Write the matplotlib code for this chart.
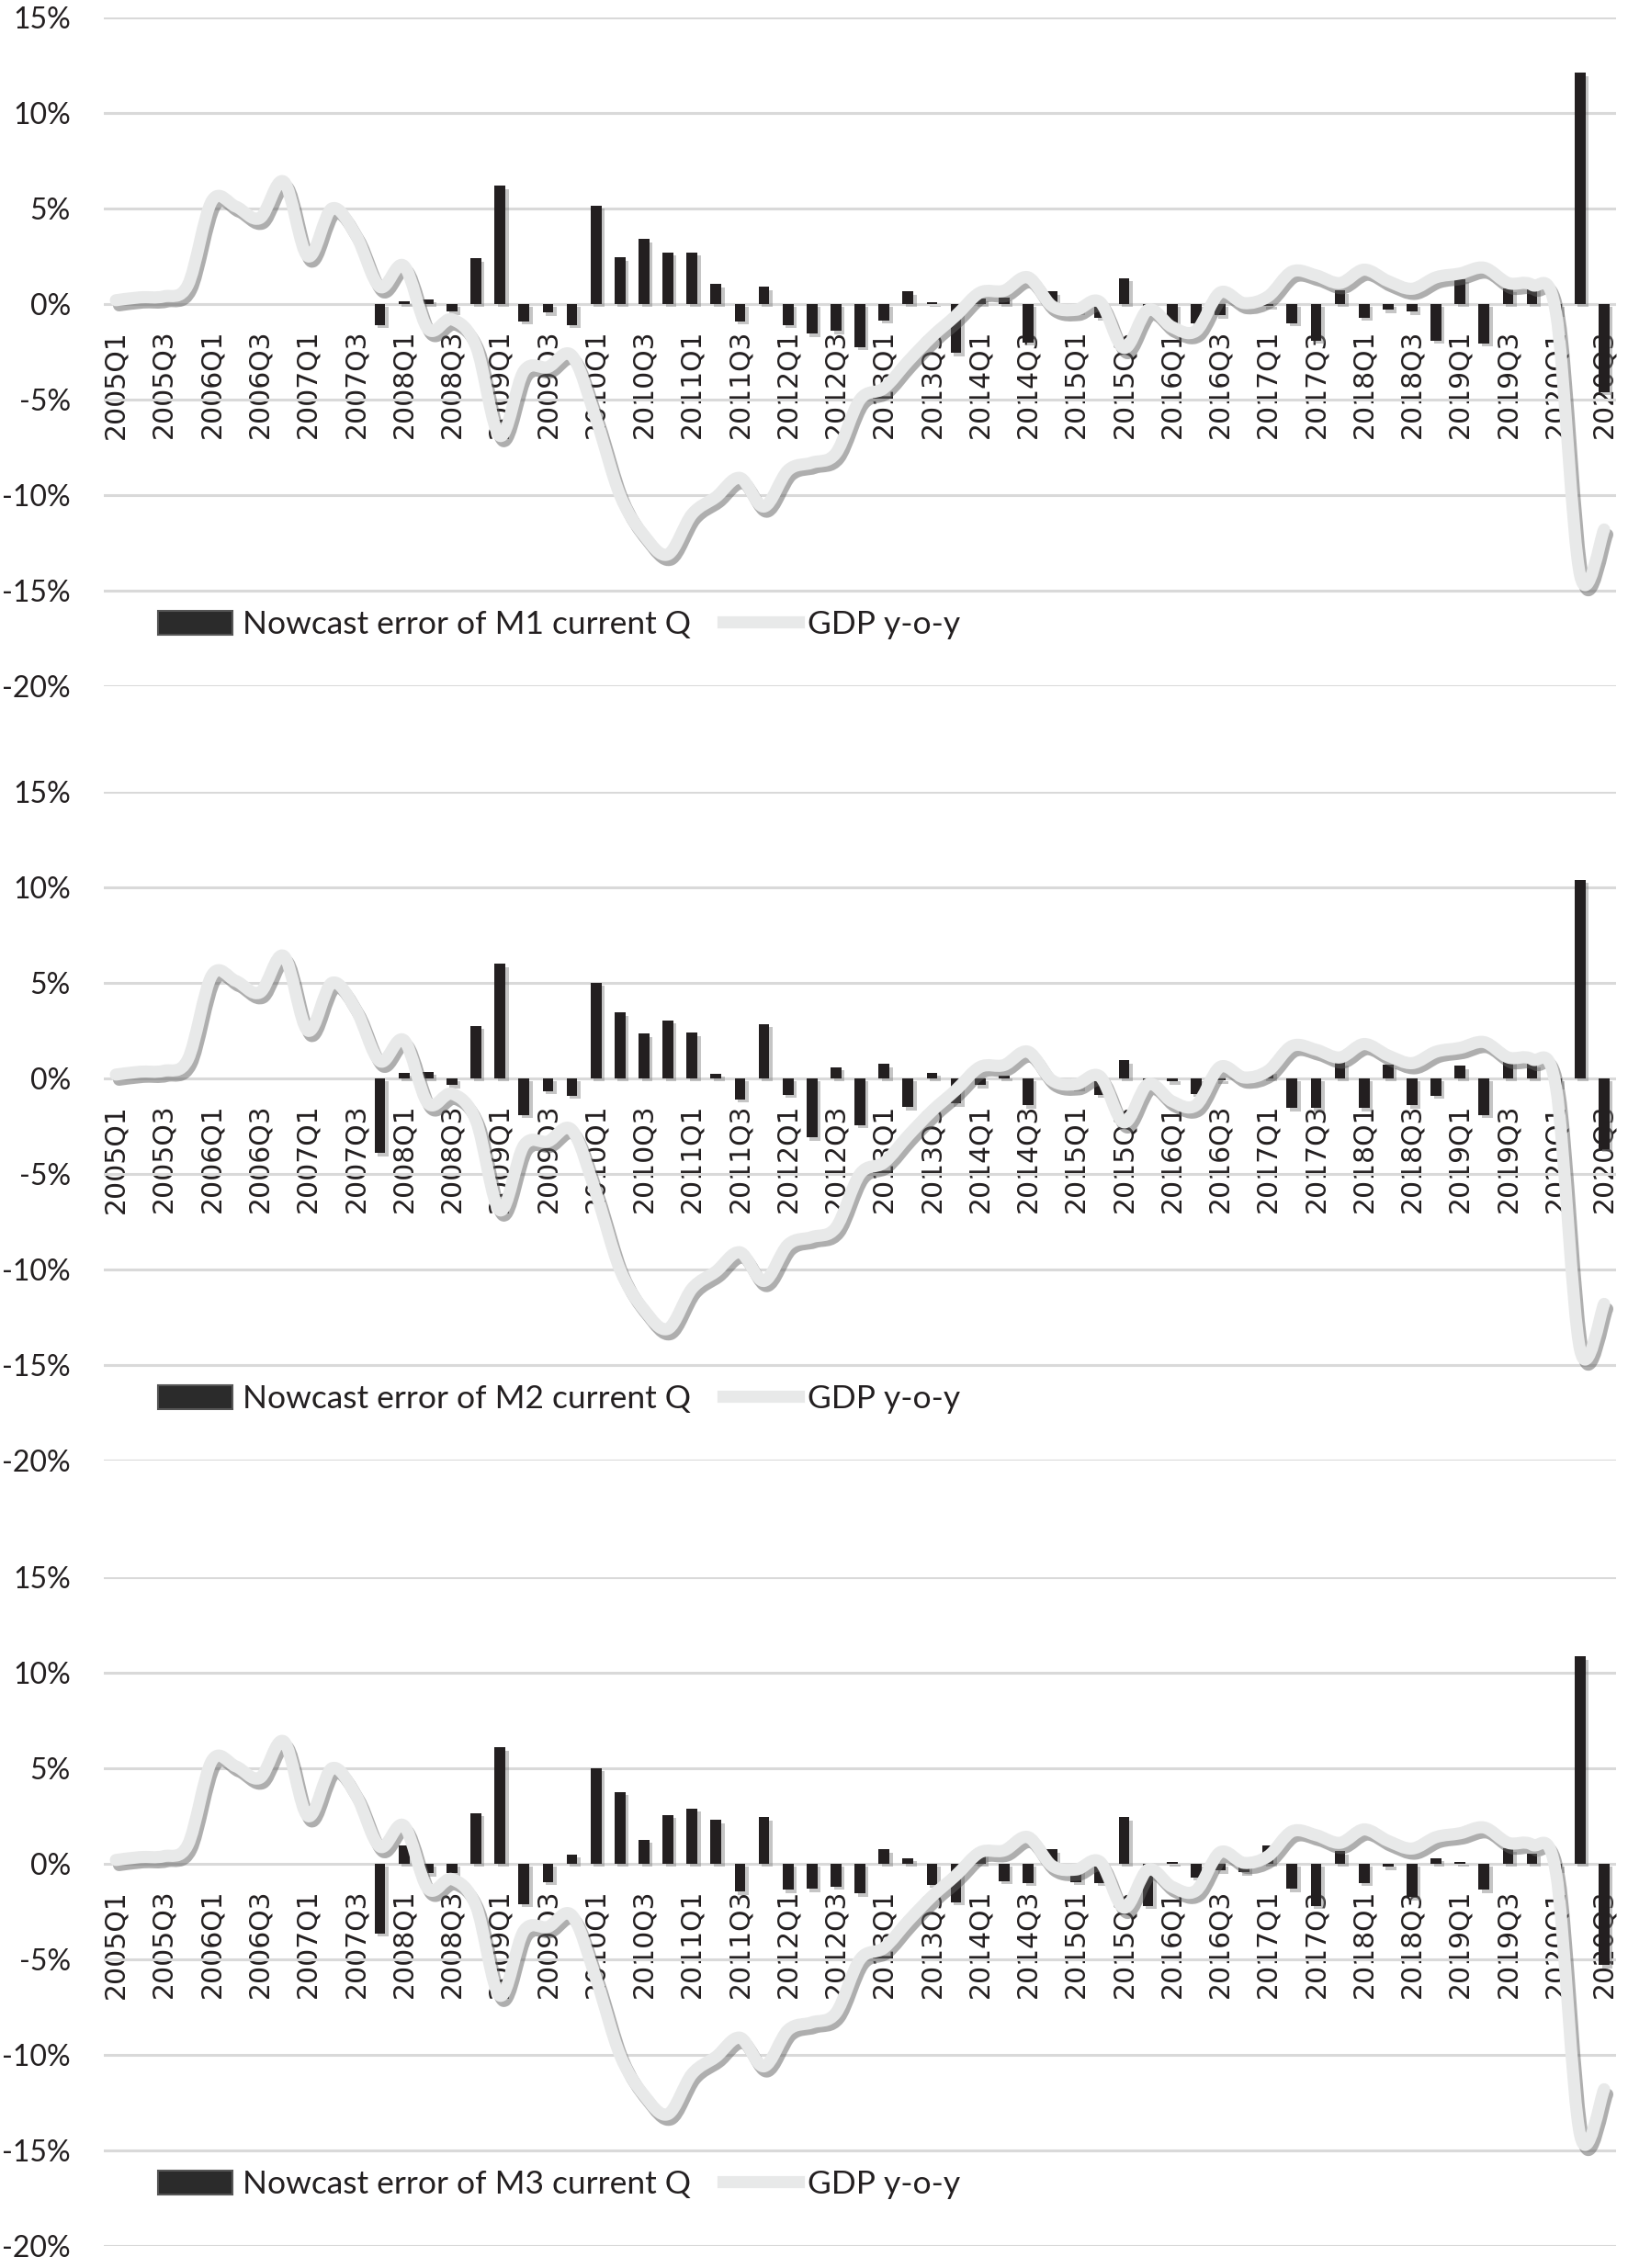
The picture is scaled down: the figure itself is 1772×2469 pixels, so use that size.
import matplotlib
matplotlib.use("Agg")
import matplotlib.pyplot as plt
import matplotlib.patheffects as pe
from matplotlib.lines import Line2D
from matplotlib.patches import Patch, PathPatch
from matplotlib.path import Path
from matplotlib.ticker import FuncFormatter
import numpy as np

# quarters 2005Q1 .. 2020Q3
quarters = [f"{y}Q{q}" for y in range(2005, 2021) for q in range(1, 5)][:63]

# GDP y-o-y (%), same line in the three panels
gdp = [0.2, 0.35, 0.4, 1.0, 5.4, 5.1, 4.5, 6.4, 2.5, 5.0, 3.6, 0.9,
       2.0, -1.3, -0.8, -2.2, -6.9, -3.5, -3.3, -2.7, -6.0, -10.0, -12.1, -13.1,
       -11.0, -10.1, -9.1, -10.6, -8.7, -8.3, -7.8, -5.0, -4.4, -3.0, -1.7, -0.6,
       0.6, 0.7, 1.4, -0.1, -0.3, 0.1, -2.3, -0.3, -1.2, -1.4, 0.6, 0.05,
       0.4, 1.7, 1.5, 1.1, 1.8, 1.2, 0.8, 1.4, 1.6, 1.9, 1.1, 1.0,
       -0.5, -14.2, -11.8]

# nowcast errors (%)
err_m1 = [0, 0, 0, 0, 0, 0, 0, 0, 0, 0, 0, -1.1,
          0.15, 0.25, -0.4, 2.4, 6.2, -0.9, -0.45, -1.1, 5.15, 2.45, 3.4, 2.7,
          2.7, 1.05, -0.9, 0.9, -1.1, -1.55, -1.4, -2.25, -0.85, 0.65, 0.08, -2.55,
          0.3, 0.35, -2.0, 0.65, -0.4, -0.7, 1.35, -0.4, -1.25, -1.0, -0.6, 0.1,
          -0.1, -1.0, -1.9, 0.7, -0.7, -0.3, -0.4, -1.9, 1.3, -2.05, 0.8, 0.95,
          -0.5, 12.1, -4.6]

err_m2 = [0, 0, 0, 0, 0, 0, 0, 0, 0, 0, 0, -3.9,
          0.3, 0.35, -0.35, 2.75, 6.0, -1.9, -0.65, -0.9, 5.0, 3.45, 2.35, 3.05,
          2.4, 0.25, -1.1, 2.85, -0.85, -3.1, 0.6, -2.45, 0.75, -1.5, 0.3, -1.3,
          -0.35, 0.15, -1.4, -0.2, -0.5, -0.85, 0.95, -0.15, -0.15, -0.8, -0.1, 0.05,
          0.4, -1.55, -1.55, 0.85, -1.55, 0.7, -1.4, -0.9, 0.65, -1.9, 1.0, 0.75,
          -0.4, 10.4, -3.7]

err_m3 = [0, 0, 0, 0, 0, 0, 0, 0, 0, 0, 0, -3.65,
          0.95, -0.5, -0.5, 2.65, 6.1, -2.1, -0.95, 0.5, 5.0, 3.75, 1.25, 2.55,
          2.9, 2.3, -1.45, 2.45, -1.35, -1.3, -1.2, -1.55, 0.75, 0.3, -1.1, -2.0,
          0.7, -0.9, -1.0, 0.75, -0.95, -1.0, 2.45, -2.2, 0.1, -0.7, -0.35, -0.45,
          0.95, -1.3, -2.2, 0.65, -1.0, -0.15, -1.75, 0.3, 0.1, -1.35, 0.8, 0.55,
          -0.3, 10.85, -5.3]

errors = [err_m1, err_m2, err_m3]
names = ["Nowcast error of M1 current Q", "Nowcast error of M2 current Q",
         "Nowcast error of M3 current Q"]

yticks = [15, 10, 5, 0, -5, -10, -15, -20]

bar_color = "#231f20"
line_color = "#e8e9e9"
grid_color = "#d9d9d9"
txt_color = "#231f20"
sans = ["Lato", "DejaVu Sans"]


def smooth_path(xs, ys, t=1 / 6):
    # Bezier path through the points (like a smoothed line in a spreadsheet)
    xs = np.asarray(xs, float)
    ys = np.asarray(ys, float)
    n = len(xs)
    verts = [(xs[0], ys[0])]
    codes = [Path.MOVETO]
    for i in range(n - 1):
        p0 = (xs[max(i - 1, 0)], ys[max(i - 1, 0)])
        p1 = (xs[i], ys[i])
        p2 = (xs[i + 1], ys[i + 1])
        p3 = (xs[min(i + 2, n - 1)], ys[min(i + 2, n - 1)])
        c1 = (p1[0] + (p2[0] - p0[0]) * t, p1[1] + (p2[1] - p0[1]) * t)
        c2 = (p2[0] - (p3[0] - p1[0]) * t, p2[1] - (p3[1] - p1[1]) * t)
        verts += [c1, c2, p2]
        codes += [Path.CURVE4] * 3
    return Path(verts, codes)


fig = plt.figure(figsize=(17.72, 24.69), dpi=100)

bottoms = [0.69745, 0.35601, 0.00972]
x = np.arange(len(quarters))

for k in range(3):
    ax = fig.add_axes([0.0638, bottoms[k], 0.9289, 0.29486])
    ax.set_axisbelow(True)
    ax.spines["bottom"].set_position(("data", 0))
    for s in ax.spines.values():
        s.set_visible(False)

    bars = ax.bar(x, errors[k], width=0.45, color=bar_color, linewidth=0, zorder=2)
    for b in bars:
        b.set_path_effects([pe.SimplePatchShadow(offset=(2.5, -2.5),
                                                 shadow_rgbFace="#7f7f7f", alpha=0.45),
                            pe.Normal()])

    gdp_line = PathPatch(smooth_path(x, gdp), facecolor="none", edgecolor=line_color,
                         lw=9.5, joinstyle="round", capstyle="round", zorder=3)
    gdp_line.set_path_effects([pe.SimpleLineShadow(offset=(2.5, -4), shadow_color="#5f5f5f",
                                                   alpha=0.5),
                               pe.Normal()])
    ax.add_patch(gdp_line)

    ax.set_xlim(-0.5, len(quarters) - 0.5)
    ax.set_ylim(-20, 15)
    ax.set_yticks(yticks)
    ax.yaxis.set_major_formatter(FuncFormatter(lambda v, p: f"{v:.0f}%"))
    ax.yaxis.grid(True, color=grid_color, lw=2.2)
    ax.tick_params(axis="y", length=0, pad=26, labelsize=23, labelcolor=txt_color)
    for lab in ax.get_yticklabels():
        lab.set_family(sans)

    ax.set_xticks(x[::2])
    ax.set_xticklabels(quarters[::2], rotation=90, fontsize=21.5,
                       color=txt_color, family="DejaVu Sans")
    ax.tick_params(axis="x", length=0, pad=20)

    handles = [Patch(facecolor="#2b2b2b", edgecolor="#555555", linewidth=1.5),
               Line2D([0], [0], color=line_color, lw=9.5)]
    ax.legend(handles, [names[k], "GDP y-o-y"], ncol=2, frameon=False,
              loc="center left", bbox_to_anchor=(0.027, 0.092),
              prop={"family": sans, "size": 25.5}, labelcolor=txt_color,
              handlelength=2.3, handleheight=0.75, handletextpad=0.3,
              columnspacing=1.0, borderaxespad=0)

fig.savefig("out.png", dpi=100, facecolor="white")
